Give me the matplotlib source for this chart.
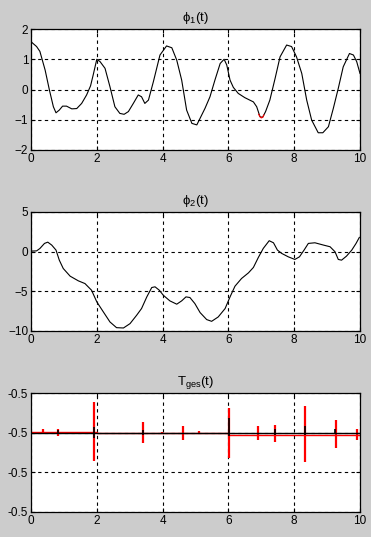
import numpy as np
import matplotlib
matplotlib.use('Agg')
import matplotlib.pyplot as plt
from matplotlib.ticker import FixedLocator, FixedFormatter

plt.rcParams['font.family'] = ['Liberation Sans', 'DejaVu Sans']
plt.rcParams['mathtext.default'] = 'regular'

# ---------------- data ----------------
t1 = [0, 0.17, 0.27, 0.43, 0.56, 0.68, 0.76, 0.86, 0.96, 1.08, 1.24, 1.39, 1.54, 1.69,
      1.81, 1.89, 2.0, 2.1, 2.25, 2.4, 2.55, 2.7, 2.83, 2.96, 3.11, 3.26, 3.36, 3.46,
      3.57, 3.72, 3.92, 4.12, 4.28, 4.43, 4.58, 4.73, 4.89, 5.04, 5.14, 5.29, 5.44,
      5.59, 5.75, 5.87, 5.95, 6.05, 6.15, 6.3, 6.5, 6.76, 6.86, 6.96, 7.04, 7.13, 7.26,
      7.42, 7.57, 7.77, 7.92, 8.07, 8.23, 8.38, 8.53, 8.73, 8.87, 9.04, 9.19, 9.34,
      9.49, 9.68, 9.8, 9.9, 10.0]
phi1 = [1.58, 1.42, 1.26, 0.64, -0.02, -0.57, -0.77, -0.68, -0.55, -0.55, -0.64, -0.63,
        -0.46, -0.18, 0.12, 0.48, 1.0, 0.92, 0.70, 0.09, -0.57, -0.79, -0.82, -0.73,
        -0.46, -0.18, -0.24, -0.46, -0.35, 0.26, 1.14, 1.44, 1.38, 0.97, 0.31, -0.68,
        -1.12, -1.17, -0.95, -0.62, -0.24, 0.31, 0.86, 1.0, 0.81, 0.31, 0.07, -0.13,
        -0.27, -0.41, -0.57, -0.9, -0.92, -0.73, -0.35, 0.37, 1.08, 1.47, 1.42, 1.08,
        0.53, -0.35, -1.01, -1.43, -1.43, -1.23, -0.62, 0.04, 0.75, 1.19, 1.14, 0.92, 0.53]

# short red piece visible under phi1 near t = 7
t1_red = [6.92, 6.96, 7.0, 7.04, 7.08]
phi1_red = [-0.82, -0.9, -0.94, -0.92, -0.84]

t2 = [0, 0.17, 0.27, 0.41, 0.51, 0.63, 0.76, 0.86, 0.98, 1.19, 1.44, 1.64, 1.84, 2.0,
      2.2, 2.4, 2.6, 2.81, 3.01, 3.21, 3.36, 3.52, 3.67, 3.77, 3.9, 4.02, 4.22, 4.43,
      4.58, 4.71, 4.83, 4.98, 5.14, 5.34, 5.49, 5.69, 5.9, 6.05, 6.2, 6.4, 6.61, 6.76,
      6.91, 7.06, 7.24, 7.37, 7.49, 7.62, 7.82, 8.02, 8.16, 8.3, 8.43, 8.63, 8.89,
      9.09, 9.24, 9.34, 9.44, 9.59, 9.75, 9.88, 9.98]
phi2 = [0.07, 0.1, 0.4, 1.04, 1.2, 0.83, 0.2, -1.07, -2.12, -3.09, -3.68, -4.02, -4.86,
        -6.33, -7.6, -8.86, -9.58, -9.62, -9.07, -8.02, -7.17, -5.7, -4.52, -4.43,
        -4.86, -5.49, -6.2, -6.62, -6.2, -5.7, -5.78, -6.54, -7.68, -8.56, -8.78,
        -8.23, -7.17, -5.7, -4.35, -3.38, -2.67, -1.99, -0.73, 0.41, 1.38, 1.12, 0.2,
        -0.22, -0.65, -0.98, -0.65, 0.2, 1.04, 1.12, 0.83, 0.62, -0.01, -0.98, -1.07,
        -0.56, 0.2, 1.04, 1.8]

# T_ges: values are -0.5 + dev * 1e-5 (all tick labels round to -0.5)
tg_scale = 1e-5
tg_base = -0.5 - 3 * tg_scale
tg_ticks = [0, 1, 2, 3]
tg_black_t = [0, 10]
tg_black = [2.0, 2.0]
tg_red_t = [0, 2.0, 2.0, 6.0, 6.0, 10.0]
tg_red = [2.02, 2.02, 2.0, 2.0, 1.94, 1.94]
spike_t = [0.37, 0.83, 1.92, 3.39, 3.99, 4.61, 5.1, 6.02, 6.9, 7.43, 8.34, 9.27, 9.9]
spike_hi = [2.10, 2.10, 2.77, 2.27, 2.01, 2.17, 2.03, 2.62, 2.17, 2.20, 2.67, 2.31, 2.08]
spike_lo = [1.96, 1.91, 1.29, 1.74, 1.96, 1.82, 1.96, 1.36, 1.81, 1.76, 1.26, 1.62, 1.82]
bspike_t = [0.83, 1.92, 3.39, 6.02, 7.42, 8.32, 9.25]
bspike_hi = [2.07, 2.14, 2.07, 2.38, 2.08, 2.18, 2.09]
bspike_lo = [1.97, 1.87, 1.95, 1.91, 1.95, 1.93, 1.97]

# ---------------- figure ----------------
bg = '#cccccc'
fig = plt.figure(figsize=(3.71, 5.37), dpi=100, facecolor=bg)

boxes = [
    [31 / 371, 1 - 150 / 537, 329 / 371, 121 / 537],
    [31 / 371, 1 - 331 / 537, 329 / 371, 119 / 537],
    [31 / 371, 1 - 512 / 537, 329 / 371, 119 / 537],
]
axes = [fig.add_axes(b) for b in boxes]


def style(ax):
    ax.set_facecolor('white')
    ax.set_xlim(0, 10)
    ax.set_xticks([0, 2, 4, 6, 8, 10])
    for s in ax.spines.values():
        s.set_linewidth(0.9)
        s.set_color('black')
    ax.tick_params(direction='in', length=3, width=0.8, labelsize=8.5, pad=2,
                   top=True, right=True)
    ax.grid(True, color='black', linestyle=(0, (3, 3)), linewidth=0.8)


# phi1
ax = axes[0]
style(ax)
ax.plot(t1, phi1, color='black', linewidth=0.8)
ax.plot(t1_red, phi1_red, color='red', linewidth=0.8)
ax.set_ylim(-2, 2)
ax.set_yticks([-2, -1, 0, 1, 2])
ax.set_title(r'$\phi_1$(t)', fontsize=9.5, pad=6)

# phi2
ax = axes[1]
style(ax)
ax.plot(t2, phi2, color='black', linewidth=0.8)
ax.set_ylim(-10, 5)
ax.set_yticks([-10, -5, 0, 5])
ax.set_title(r'$\phi_2$(t)', fontsize=9.5, pad=6)

# T_ges
ax = axes[2]
style(ax)
conv = lambda v: tg_base + np.asarray(v) * tg_scale
ax.plot(tg_red_t, conv(tg_red), color='red', linewidth=1.0)
ax.vlines(spike_t, conv(spike_lo), conv(spike_hi), color='red', linewidth=1.6)
ax.plot(tg_black_t, conv(tg_black), color='black', linewidth=1.0)
ax.vlines(bspike_t, conv(bspike_lo), conv(bspike_hi), color='black', linewidth=1.2)
ax.set_ylim(conv(0), conv(3))
ax.yaxis.set_major_locator(FixedLocator(conv(tg_ticks)))
ax.yaxis.set_major_formatter(FixedFormatter(['-0.5'] * 4))
ax.set_title(r'T$_{ges}$(t)', fontsize=9.5, pad=6)

fig.savefig('out.png', dpi=100, facecolor=bg)
